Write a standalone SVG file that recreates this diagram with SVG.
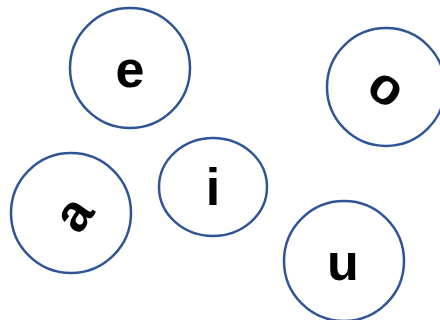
<svg xmlns="http://www.w3.org/2000/svg" width="440" height="320" viewBox="0 0 440 320">
<style>
.n{fill:#fff;stroke:#2f5597;stroke-width:2.5}
.t{font-family:"Liberation Sans",Arial,sans-serif;font-weight:bold;font-size:52px;fill:#000;text-anchor:middle}
</style>
<rect width="440" height="320" fill="#fff"/>
<g id="connectors"></g>
<g id="node-e"><circle class="n" cx="130" cy="68" r="60"/><text class="t" x="130" y="87">e</text></g>
<g id="node-o"><circle class="n" cx="386" cy="87" r="59"/><g transform="translate(385,90) rotate(35)"><text class="t" x="0" y="14">o</text></g></g>
<g id="node-a"><circle class="n" cx="71" cy="213" r="60"/><g transform="translate(76,216) rotate(-55)"><text class="t" x="0" y="14">a</text></g></g>
<g id="node-i"><ellipse class="n" cx="213" cy="187" rx="54" ry="49"/><text class="t" x="213" y="205">i</text></g>
<g id="node-u"><circle class="n" cx="344" cy="261" r="60"/><text class="t" x="343" y="280">u</text></g>
</svg>
